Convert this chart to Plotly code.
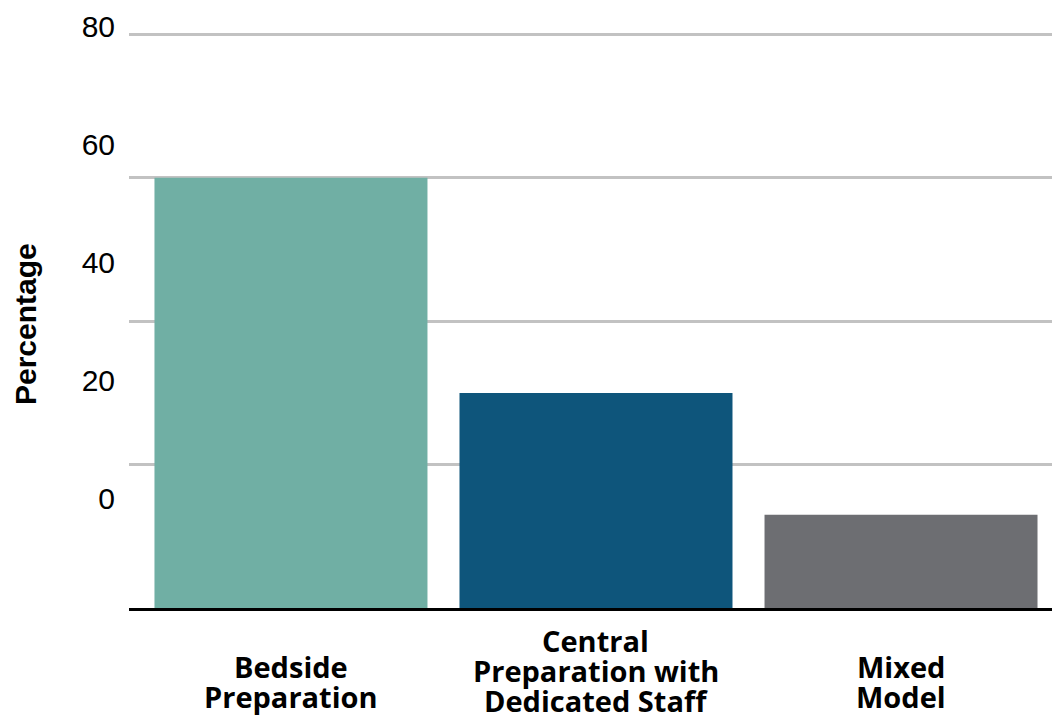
import plotly.graph_objects as go

categories = ["Bedside Preparation", "Central Preparation with Dedicated Staff", "Mixed Model"]
label_lines = [["Bedside", "Preparation"],
               ["Central", "Preparation with", "Dedicated Staff"],
               ["Mixed", "Model"]]
values = [60, 30, 13]
colors = ["#70AFA4", "#0E557B", "#6D6E72"]
tick_vals = [0, 20, 40, 60, 80]
tick_text = ["0", "20", "40", "60", "80"]
y_title = "Percentage"

W, H = 1052, 716
ML, MR, MT, MB = 129, 0, 20, 108
plot_h = H - MT - MB

fig = go.Figure()
fig.add_trace(go.Bar(
    x=categories, y=values, marker=dict(color=colors, line=dict(width=0)),
    hoverinfo="x+y", showlegend=False,
))
# invisible trace so the offset label axis is drawn
fig.add_trace(go.Scatter(
    x=[categories[0]], y=[None], yaxis="y2", mode="markers",
    marker=dict(opacity=0), showlegend=False, hoverinfo="skip",
))

annotations = []
# category labels, one annotation per line
for cat, lines in zip(categories, label_lines):
    n = len(lines)
    last_base = 707 if n == 2 else 711
    for j, line in enumerate(lines):
        base = last_base - (n - 1 - j) * 30
        annotations.append(dict(
            x=cat, xref="x", y=0, yref="paper", yanchor="middle", xanchor="center",
            yshift=-(base - 11 - (H - MB)), text=line, showarrow=False,
            font=dict(family="Open Sans", size=29, color="#000000", weight="bold"),
        ))
annotations.append(dict(
    x=0, xref="paper", xshift=-(ML - 25), y=(H - MB - 324) / plot_h, yref="paper",
    text=y_title, textangle=-90, showarrow=False, xanchor="center", yanchor="middle",
    font=dict(family="Liberation Sans", size=30, color="#000000", weight="bold"),
))

fig.update_layout(
    width=W, height=H,
    margin=dict(l=ML, r=MR, t=MT, b=MB, pad=0),
    paper_bgcolor="white", plot_bgcolor="white",
    bargap=0.105,
    xaxis=dict(type="category", range=[-0.531, 2.495], showticklabels=False,
               showgrid=False, zeroline=False, showline=True, linecolor="#000000",
               linewidth=3, ticks=""),
    yaxis=dict(range=[0, 82.0], tickvals=tick_vals, showticklabels=False,
               showgrid=True, gridcolor="#C2C2C2", gridwidth=3, zeroline=False,
               ticks=""),
    yaxis2=dict(overlaying="y", side="left", range=[-18.57, 81.14],
                tickvals=tick_vals, ticktext=tick_text, showgrid=False,
                zeroline=False, showline=False, ticks="", ticklabelstandoff=13,
                tickfont=dict(family="Liberation Sans", size=30, color="#000000")),
    annotations=annotations,
)

fig.write_html("out.html")
